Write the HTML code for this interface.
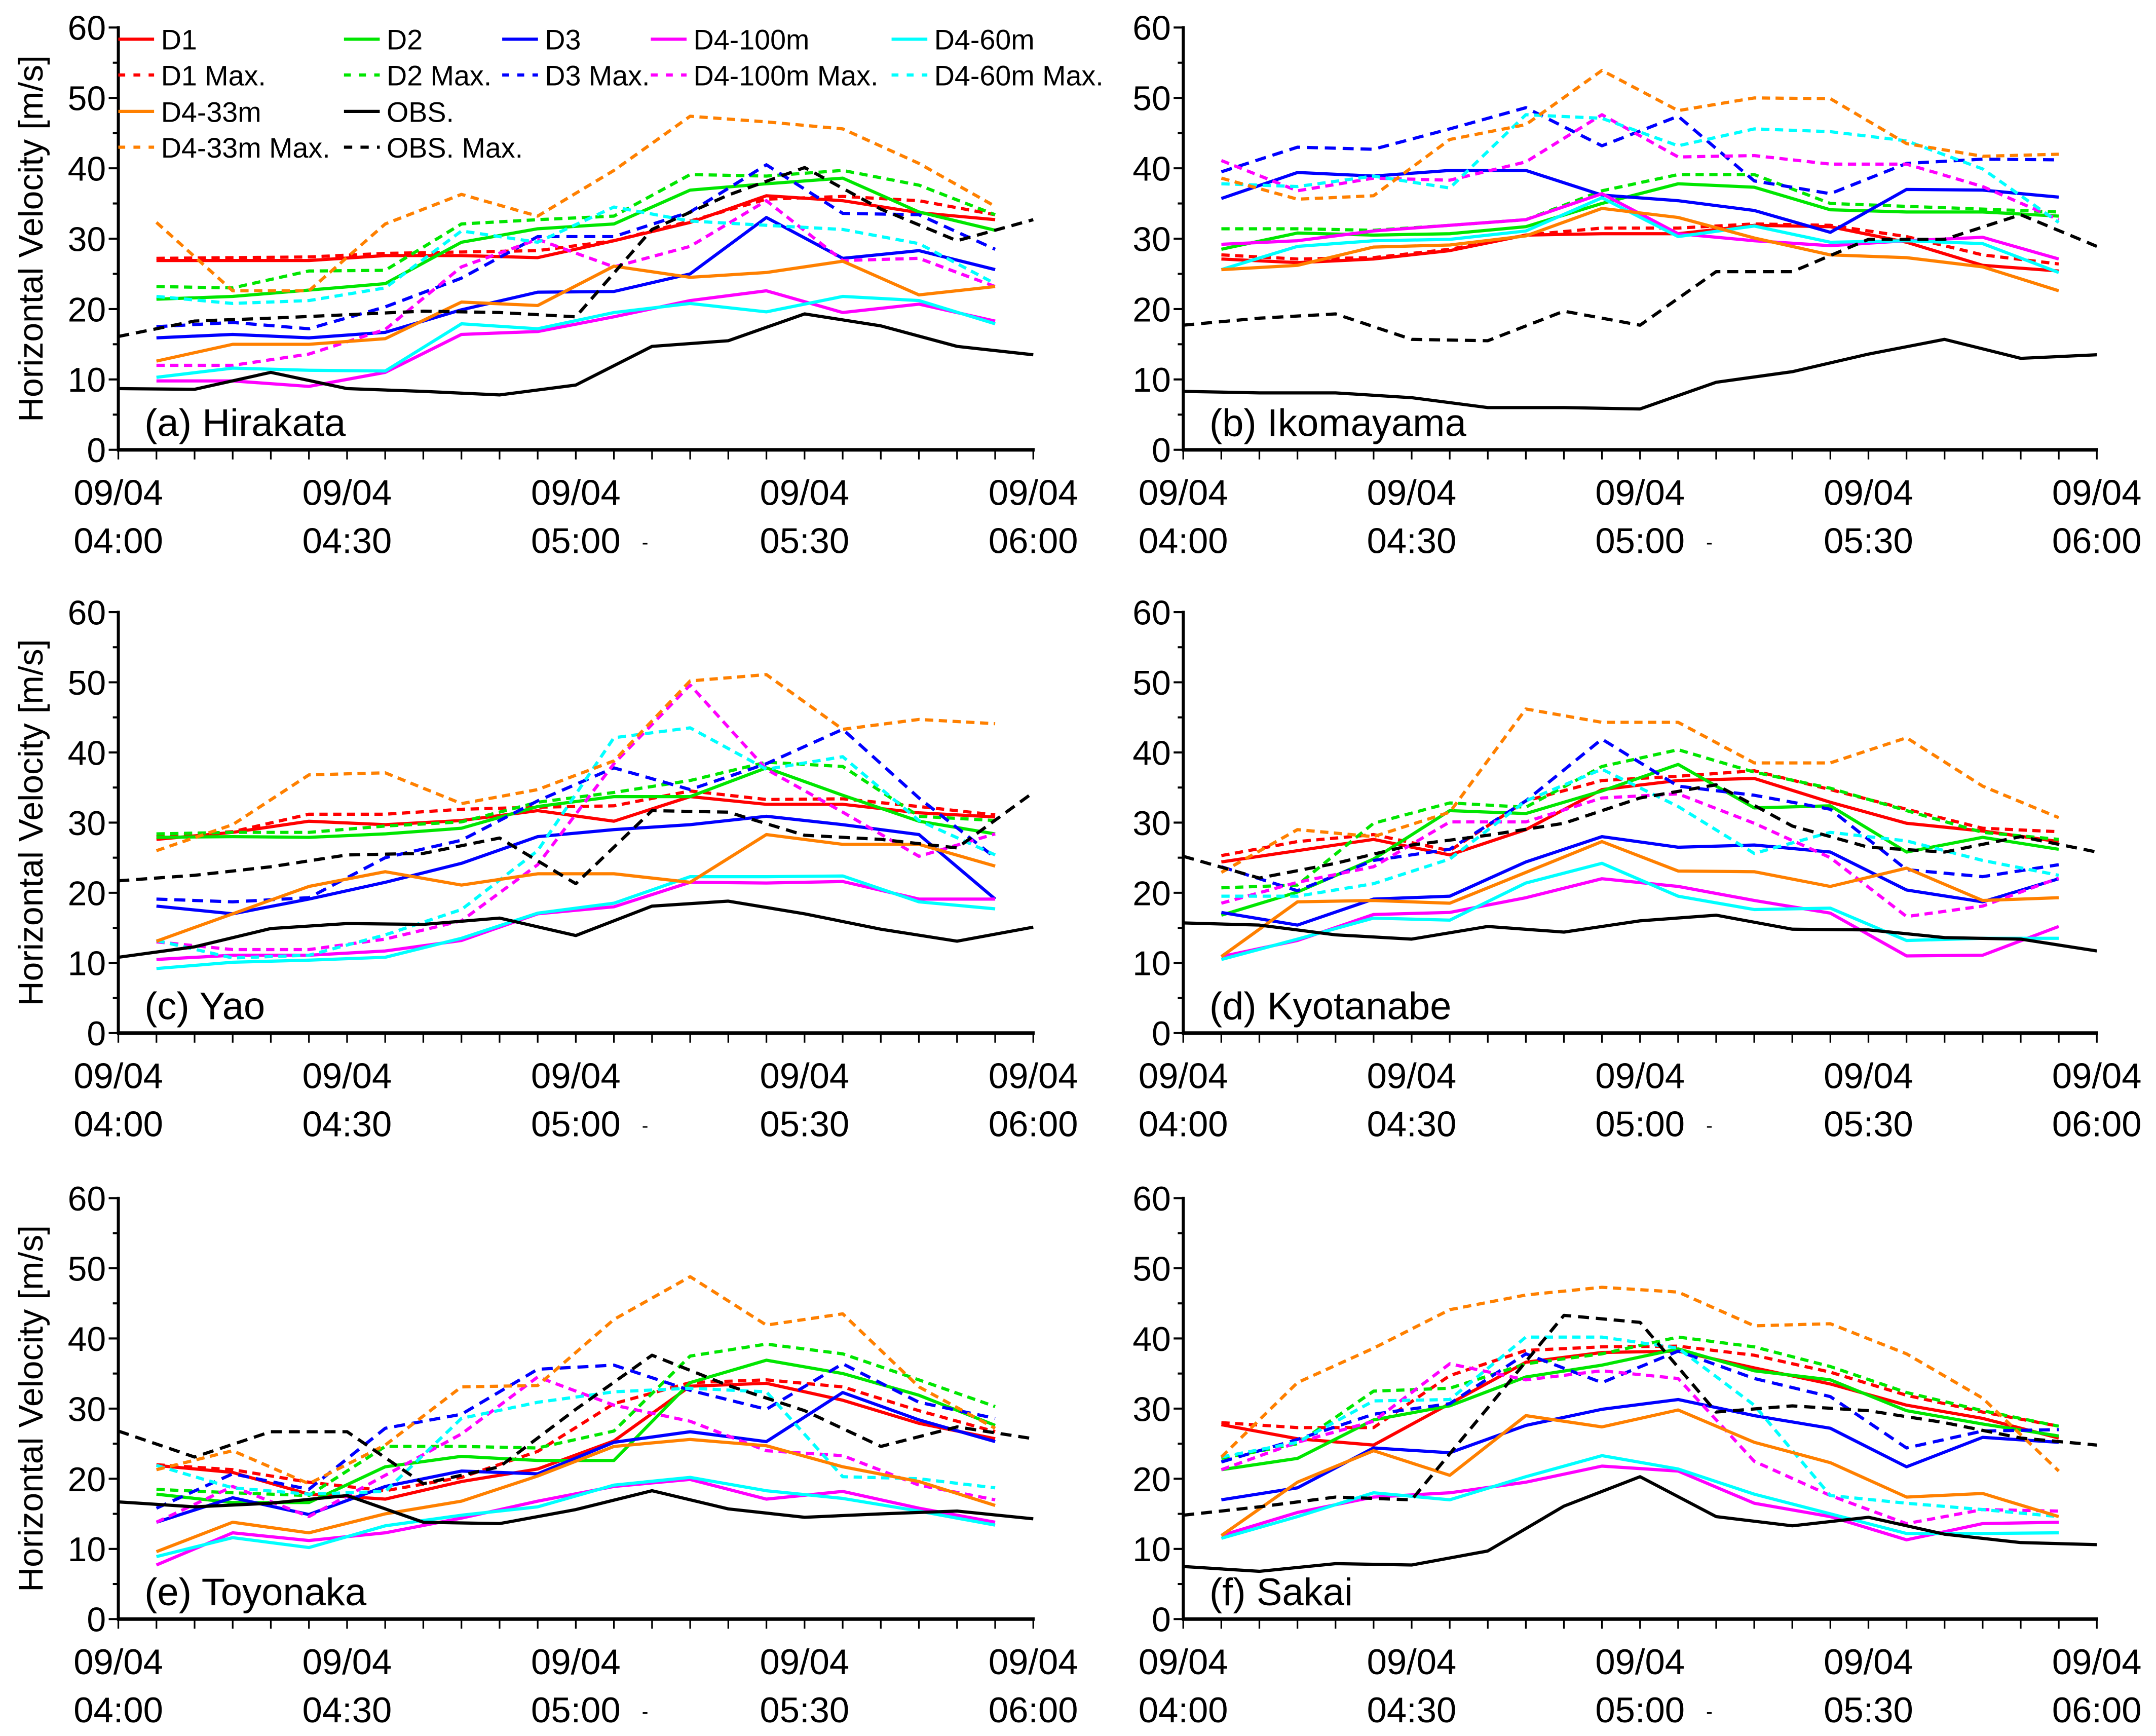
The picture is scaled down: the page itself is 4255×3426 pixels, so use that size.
<!DOCTYPE html>
<html><head><meta charset="utf-8"><style>
html,body{margin:0;padding:0;background:#fff;}
svg{display:block;}
text{font-family:"Liberation Sans",sans-serif;fill:#000;}
</style></head><body>
<svg id="chart" xmlns="http://www.w3.org/2000/svg" width="4255" height="3426" viewBox="0 0 1567 1262" preserveAspectRatio="none">
<rect x="0" y="0" width="1567" height="1262" fill="#fff"/>
</svg>
<script>
// time categories (minutes after 04:00)
const simTimes = [5,15,25,35,45,55,65,75,85,95,105,115];
const obsTimes = [0,10,20,30,40,50,60,70,80,90,100,110,120];
const yTicks = [0,10,20,30,40,50,60];
const xTickLabels = ["04:00","04:30","05:00","05:30","06:00"];
const seriesNames = ["D1","D1 Max.","D2","D2 Max.","D3","D3 Max.","D4-100m","D4-100m Max.","D4-60m","D4-60m Max.","D4-33m","D4-33m Max.","OBS.","OBS. Max."];
const panelTitles = ["(a) Hirakata","(b) Ikomayama","(c) Yao","(d) Kyotanabe","(e) Toyonaka","(f) Sakai"];

// (a) Hirakata
const aD1 = [26.9,26.9,26.9,27.6,27.6,27.3,29.7,32.3,36.1,35.4,33.7,32.7];
const aD1Max = [27.2,27.3,27.4,27.9,28.1,28.3,29.7,32.5,35.6,36.0,35.4,33.4];
const aD2 = [21.4,21.8,22.7,23.6,29.5,31.4,32.1,36.9,37.8,38.6,33.8,31.2];
const aD2Max = [23.2,23.0,25.4,25.5,32.1,32.7,33.2,39.1,38.9,39.7,37.6,33.4];
const aD3 = [15.9,16.4,15.9,16.7,19.9,22.4,22.5,25.0,33.0,27.2,28.3,25.6];
const aD3Max = [17.5,18.1,17.2,20.3,24.4,30.3,30.3,33.8,40.5,33.6,33.4,28.5];
const aD4_100 = [9.8,9.8,9.0,11.0,16.4,16.8,18.9,21.2,22.6,19.5,20.7,18.3];
const aD4_100Max = [12.0,12.0,13.6,17.1,26.0,29.9,26.0,28.9,35.4,26.9,27.2,23.2];
const aD4_60 = [10.3,11.6,11.3,11.2,17.9,17.2,19.5,20.8,19.6,21.8,21.2,17.9];
const aD4_60Max = [21.8,20.8,21.2,23.0,31.1,29.5,34.5,32.5,31.9,31.3,29.3,23.6];
const aD4_33 = [12.6,15.0,15.0,15.8,21.0,20.5,26.1,24.5,25.2,26.8,22.0,23.2];
const aD4_33Max = [32.3,22.6,22.6,32.1,36.3,33.2,39.7,47.4,46.6,45.6,40.7,34.6];
const aOBS = [8.7,8.6,11.0,8.7,8.3,7.8,9.2,14.7,15.5,19.3,17.6,14.7,13.5];
const aOBSMax = [16.1,18.3,18.7,19.2,19.7,19.5,18.9,31.3,36.2,40.1,34.2,29.7,32.7];

// (b) Ikomayama
const bD1 = [27.1,26.6,27.1,28.3,30.5,30.7,30.7,31.9,31.7,29.5,26.2,25.4];
const bD1Max = [27.7,27.1,27.3,28.5,30.5,31.5,31.5,32.1,31.9,30.3,27.7,26.4];
const bD2 = [28.5,30.8,30.5,30.7,31.7,35.0,37.8,37.3,34.1,33.8,33.8,33.2];
const bD2Max = [31.4,31.4,31.2,31.9,32.7,36.8,39.1,39.1,35.0,34.6,34.2,33.8];
const bD3 = [35.7,39.4,38.9,39.7,39.7,36.2,35.4,34.0,30.9,37.0,36.9,35.9];
const bD3Max = [39.5,43.0,42.7,45.6,48.6,43.2,47.4,38.2,36.4,40.7,41.3,41.2];
const bD4_100 = [29.2,29.7,31.1,31.9,32.7,36.4,30.7,29.7,29.0,29.7,30.2,27.1];
const bD4_100Max = [41.1,36.8,38.6,38.3,40.9,47.6,41.6,41.8,40.6,40.6,37.4,32.7];
const bD4_60 = [25.6,28.9,29.7,29.9,31.1,35.8,30.3,31.8,29.5,29.7,29.3,25.2];
const bD4_60Max = [37.8,37.4,38.9,37.2,47.6,47.1,43.2,45.6,45.2,43.9,39.9,32.3];
const bD4_33 = [25.6,26.2,28.8,29.1,30.4,34.3,33.0,30.1,27.7,27.3,26.0,22.6];
const bD4_33Max = [38.6,35.6,36.1,44.1,46.2,53.9,48.2,50.0,49.9,43.5,41.7,42.0];
const bOBS = [8.3,8.1,8.1,7.4,6.0,6.0,5.8,9.6,11.1,13.6,15.7,13.0,13.5];
const bOBSMax = [17.7,18.7,19.3,15.7,15.5,19.7,17.7,25.3,25.3,29.9,29.9,33.4,28.9];

// (c) Yao
const cD1 = [27.6,28.6,30.2,29.7,30.3,31.7,30.2,33.7,32.6,32.6,31.4,30.8];
const cD1Max = [28.0,28.7,31.2,31.2,31.9,32.2,32.4,34.5,33.3,33.4,32.3,31.1];
const cD2 = [27.9,28.0,27.9,28.4,29.2,32.3,33.7,33.7,37.8,33.9,30.2,28.4];
const cD2Max = [28.4,28.6,28.6,29.5,30.1,32.9,34.3,36.0,38.6,38.0,30.9,30.3];
const cD3 = [18.1,17.0,19.1,21.5,24.2,28.0,29.0,29.7,30.9,29.7,28.3,19.1];
const cD3Max = [19.1,18.7,19.3,25.0,27.5,33.1,37.8,34.7,38.4,43.3,33.5,25.0];
const cD4_100 = [10.5,11.1,11.1,11.7,13.2,17.0,18.0,21.5,21.4,21.6,19.1,19.1];
const cD4_100Max = [13.0,11.9,11.9,13.4,16.0,24.0,38.4,49.6,37.6,31.5,25.2,28.4];
const cD4_60 = [9.2,10.1,10.4,10.8,13.5,17.1,18.5,22.3,22.3,22.4,18.7,17.7];
const cD4_60Max = [13.2,10.7,11.1,14.0,17.6,26.0,42.1,43.5,37.6,39.4,30.3,25.4];
const cD4_33 = [13.1,17.0,20.9,23.0,21.1,22.7,22.7,21.5,28.3,26.9,26.9,23.8];
const cD4_33Max = [26.0,29.7,36.8,37.1,32.7,34.7,38.8,50.2,51.1,43.3,44.7,44.1];
const cOBS = [10.8,12.3,14.9,15.6,15.5,16.4,13.9,18.1,18.8,17.0,14.8,13.1,15.1];
const cOBSMax = [21.7,22.5,23.7,25.4,25.6,27.8,21.3,31.7,31.5,28.2,27.6,26.4,34.3];

// (d) Kyotanabe
const dD1 = [24.4,26.0,27.6,25.4,29.0,34.7,36.0,36.3,32.9,29.9,28.8,27.3];
const dD1Max = [25.3,27.3,28.3,26.0,33.1,36.0,36.6,37.4,34.7,31.9,29.2,28.7];
const dD2 = [16.8,20.1,24.8,31.7,31.3,34.5,38.3,32.1,32.4,25.8,27.9,26.2];
const dD2Max = [20.7,21.1,29.9,32.8,32.2,38.0,40.4,37.2,34.9,31.7,28.6,27.6];
const dD3 = [17.2,15.4,19.1,19.5,24.4,28.0,26.5,26.8,25.8,20.4,18.7,22.0];
const dD3Max = [23.7,20.3,24.6,26.2,33.1,41.9,35.2,33.9,31.9,23.3,22.3,24.0];
const dD4_100 = [10.9,13.2,16.9,17.2,19.3,22.0,20.9,18.9,17.1,11.0,11.1,15.2];
const dD4_100Max = [18.5,21.5,23.7,30.1,30.1,33.5,34.1,29.9,25.0,16.6,18.1,22.1];
const dD4_60 = [10.5,13.4,16.4,16.1,21.4,24.2,19.5,17.6,17.8,13.2,13.5,13.5];
const dD4_60Max = [19.5,19.5,21.3,24.8,33.1,37.6,32.3,25.6,28.6,27.4,24.6,22.5];
const dD4_33 = [10.9,18.7,18.9,18.5,22.9,27.3,23.1,23.0,20.9,23.5,18.9,19.3];
const dD4_33Max = [22.9,29.0,28.0,31.5,46.2,44.3,44.3,38.5,38.5,42.1,35.2,30.7];
const dOBS = [15.7,15.4,14.0,13.4,15.2,14.4,16.0,16.8,14.8,14.7,13.6,13.4,11.7];
const dOBSMax = [25.2,22.1,24.2,26.8,28.2,29.9,33.5,35.4,29.5,26.5,25.8,28.0,25.8];

// (e) Toyonaka
const eD1 = [21.9,20.9,17.8,17.1,19.6,21.4,25.4,33.2,33.6,31.2,27.9,25.7];
const eD1Max = [22.0,21.3,19.5,18.3,20.2,23.9,30.7,33.7,34.1,33.1,29.7,26.7];
const eD2 = [17.8,16.6,16.6,21.7,23.2,22.6,22.6,33.7,36.9,35.0,31.9,27.6];
const eD2Max = [18.5,18.0,17.6,24.6,24.6,24.4,26.8,37.5,39.2,37.8,34.1,30.3];
const eD3 = [13.8,17.3,14.9,18.9,21.1,20.7,25.2,26.7,25.3,32.3,28.4,25.3];
const eD3Max = [15.8,20.7,18.5,27.2,29.2,35.6,36.2,32.6,29.9,36.4,30.9,28.6];
const eD4_100 = [7.7,12.3,11.2,12.3,14.4,16.8,18.9,19.9,17.1,18.2,15.8,13.8];
const eD4_100Max = [13.8,18.9,14.6,20.5,26.4,34.5,30.5,28.2,24.0,23.3,19.1,17.0];
const eD4_60 = [8.9,11.6,10.2,13.3,14.8,16.0,19.1,20.2,18.3,17.2,15.4,13.4];
const eD4_60Max = [21.9,18.7,17.8,18.2,28.6,30.9,32.4,32.9,32.4,20.3,20.0,18.7];
const eD4_33 = [9.6,13.8,12.3,15.0,16.8,20.4,24.6,25.6,24.7,21.7,19.6,16.2];
const eD4_33Max = [21.3,24.0,19.3,24.8,33.1,33.3,42.7,48.8,41.9,43.5,33.1,27.2];
const eOBS = [16.7,16.0,16.5,17.6,13.8,13.6,15.6,18.3,15.7,14.5,15.0,15.4,14.3];
const eOBSMax = [26.8,23.1,26.7,26.7,19.3,21.7,29.9,37.6,33.3,29.7,24.6,27.4,25.7];

// (f) Sakai
const fD1 = [27.7,25.7,24.8,30.7,36.6,38.0,38.2,35.8,33.5,30.5,28.6,25.8];
const fD1Max = [28.0,27.3,27.3,34.7,38.3,38.8,38.9,37.6,35.2,31.9,29.5,27.5];
const fD2 = [21.3,22.9,28.4,30.4,34.5,36.2,38.5,35.4,34.1,29.7,27.8,26.1];
const fD2Max = [22.9,25.0,32.5,32.9,36.4,37.8,40.2,38.8,36.0,32.3,29.7,27.5];
const fD3 = [17.0,18.7,24.4,23.7,27.6,29.9,31.3,29.0,27.2,21.7,25.9,25.2];
const fD3Max = [22.4,25.6,29.2,30.7,37.8,33.7,38.2,34.3,31.7,24.4,26.8,27.0];
const fD4_100 = [11.9,15.2,17.4,18.0,19.5,21.8,21.1,16.5,14.6,11.3,13.6,13.8];
const fD4_100Max = [21.3,25.2,28.2,36.4,34.1,35.4,34.3,22.5,17.6,13.6,15.6,15.4];
const fD4_60 = [11.5,14.6,18.0,17.0,20.3,23.3,21.4,17.8,15.0,12.2,12.2,12.3];
const fD4_60Max = [23.1,25.2,31.1,31.3,40.2,40.2,38.6,30.5,17.6,16.5,15.6,14.6];
const fD4_33 = [11.9,19.5,24.0,20.5,29.0,27.4,29.8,25.2,22.3,17.4,17.9,14.6];
const fD4_33Max = [23.1,33.7,38.6,44.1,46.2,47.3,46.6,41.8,42.1,37.8,31.5,21.1];
const fOBS = [7.5,6.8,7.9,7.7,9.7,16.1,20.3,14.6,13.3,14.5,12.1,10.9,10.6];
const fOBSMax = [14.8,16.0,17.4,17.0,30.1,43.3,42.3,29.5,30.4,29.7,28.0,25.8,24.8];

const panelData = [
  [aD1,aD1Max,aD2,aD2Max,aD3,aD3Max,aD4_100,aD4_100Max,aD4_60,aD4_60Max,aD4_33,aD4_33Max,aOBS,aOBSMax],
  [bD1,bD1Max,bD2,bD2Max,bD3,bD3Max,bD4_100,bD4_100Max,bD4_60,bD4_60Max,bD4_33,bD4_33Max,bOBS,bOBSMax],
  [cD1,cD1Max,cD2,cD2Max,cD3,cD3Max,cD4_100,cD4_100Max,cD4_60,cD4_60Max,cD4_33,cD4_33Max,cOBS,cOBSMax],
  [dD1,dD1Max,dD2,dD2Max,dD3,dD3Max,dD4_100,dD4_100Max,dD4_60,dD4_60Max,dD4_33,dD4_33Max,dOBS,dOBSMax],
  [eD1,eD1Max,eD2,eD2Max,eD3,eD3Max,eD4_100,eD4_100Max,eD4_60,eD4_60Max,eD4_33,eD4_33Max,eOBS,eOBSMax],
  [fD1,fD1Max,fD2,fD2Max,fD3,fD3Max,fD4_100,fD4_100Max,fD4_60,fD4_60Max,fD4_33,fD4_33Max,fOBS,fOBSMax]
];

// styling (not data)
const colors = ["#ff0000","#ff0000","#00e600","#00e600","#0000ff","#0000ff","#ff00ff","#ff00ff","#00ffff","#00ffff","#ff8000","#ff8000","#000000","#000000"];
const dashes = [null,"6,4",null,"6,4",null,"8,5",null,"6,4",null,"6,4",null,"6,4",null,"8,5"];
const layout = [
  {x0:86,x1:751,yTop:20,yBot:327},
  {x0:860,x1:1524,yTop:20,yBot:327},
  {x0:86,x1:751,yTop:445,yBot:751},
  {x0:860,x1:1524,yTop:445,yBot:751},
  {x0:86,x1:751,yTop:871,yBot:1177},
  {x0:860,x1:1524,yTop:871,yBot:1177}
];

const NS = "http://www.w3.org/2000/svg";
const svg = document.getElementById("chart");
function mk(tag, attrs, parent){
  const e = document.createElementNS(NS, tag);
  for (const k in attrs) e.setAttribute(k, attrs[k]);
  parent.appendChild(e);
  return e;
}
function slug(s){return s.toLowerCase().replace(/[^a-z0-9]+/g,'-').replace(/^-|-$/g,'');}

layout.forEach((L, pi) => {
  const g = mk("g", {}, svg);
  
  
  const xs = t => L.x0 + (t / 120) * (L.x1 - L.x0);
  const ys = v => L.yBot - (v / 60) * (L.yBot - L.yTop);

  panelData[pi].forEach((arr, si) => {
    const times = arr.length === 13 ? obsTimes : simTimes;
    const pts = arr.map((v, i) => xs(times[i]).toFixed(1) + "," + ys(v).toFixed(1)).join(" ");
    const attrs = {points: pts, fill: "none", stroke: colors[si], "stroke-width": 2.3, "stroke-linejoin": "round"};
    if (dashes[si]) attrs["stroke-dasharray"] = dashes[si];
    const pl = mk("polyline", attrs, g);
    
    
  });

  const ax = mk("g", {}, g);
  
  
  mk("line", {x1:L.x0, y1:L.yTop-1, x2:L.x0, y2:L.yBot, stroke:"#000", "stroke-width":2.2}, ax);
  mk("line", {x1:L.x0-1, y1:L.yBot, x2:L.x1+1, y2:L.yBot, stroke:"#000", "stroke-width":2.6}, ax);
  for (let v = 0; v <= 60; v += 5) {
    const len = v % 10 === 0 ? 7 : 4;
    mk("line", {x1:L.x0-len, y1:ys(v), x2:L.x0, y2:ys(v), stroke:"#000", "stroke-width":1.5}, ax);
  }
  yTicks.forEach(v => {
    const t = mk("text", {x:L.x0-9, y:ys(v)+9, "font-size":25, "text-anchor":"end"}, ax);
    t.textContent = v;
    
    
  });
  for (let m = 0; m <= 120; m += 5) {
    mk("line", {x1:xs(m), y1:L.yBot, x2:xs(m), y2:L.yBot+7, stroke:"#000", "stroke-width":1.2}, ax);
  }
  xTickLabels.forEach((lab, i) => {
    const x = xs(i * 30);
    const t1 = mk("text", {x:x, y:L.yBot+40, "font-size":26, "text-anchor":"middle"}, ax);
    t1.textContent = "09/04";
    
    
    const t2 = mk("text", {x:x, y:L.yBot+75, "font-size":26, "text-anchor":"middle"}, ax);
    t2.textContent = lab;
    
    
  });
  const dot = mk("text", {x:xs(60)+48, y:L.yBot+72, "font-size":14}, ax);
  dot.textContent = "-";
  
  

  const pt = mk("text", {x:L.x0+19, y:L.yBot-10, "font-size":28}, g);
  pt.textContent = panelTitles[pi];
  
  

  if (pi % 2 === 0) {
    const cy = (L.yTop + L.yBot) / 2;
    const yt = mk("text", {x:0, y:0, "font-size":25, "text-anchor":"middle", transform:"translate(31," + cy + ") rotate(-90)"}, g);
    yt.textContent = "Horizontal Velocity [m/s]";
    
    
  }
});

// legend (panel a)
const leg = mk("g", {}, svg);


const legCols = [86, 250, 365, 473, 648];
const legRows = [28.5, 54.5, 81, 107];
const legendSlots = [
  [0,0,0],[1,2,0],[2,4,0],[3,6,0],[4,8,0],
  [0,1,1],[1,3,1],[2,5,1],[3,7,1],[4,9,1],
  [0,10,2],[1,12,2],
  [0,11,3],[1,13,3]
];
legendSlots.forEach(s => {
  const [c, si, r] = s;
  const x = legCols[c], y = legRows[r];
  const e = mk("g", {}, leg);
  
  
  const la = {x1:x, y1:y, x2:x+26, y2:y, stroke:colors[si], "stroke-width":2.3};
  if (dashes[si]) la["stroke-dasharray"] = si === 13 ? "6,6" : "5,6";
  mk("line", la, e);
  const t = mk("text", {x:x+31, y:y+7.5, "font-size":20.5}, e);
  t.textContent = seriesNames[si];
});
</script>
</body></html>
